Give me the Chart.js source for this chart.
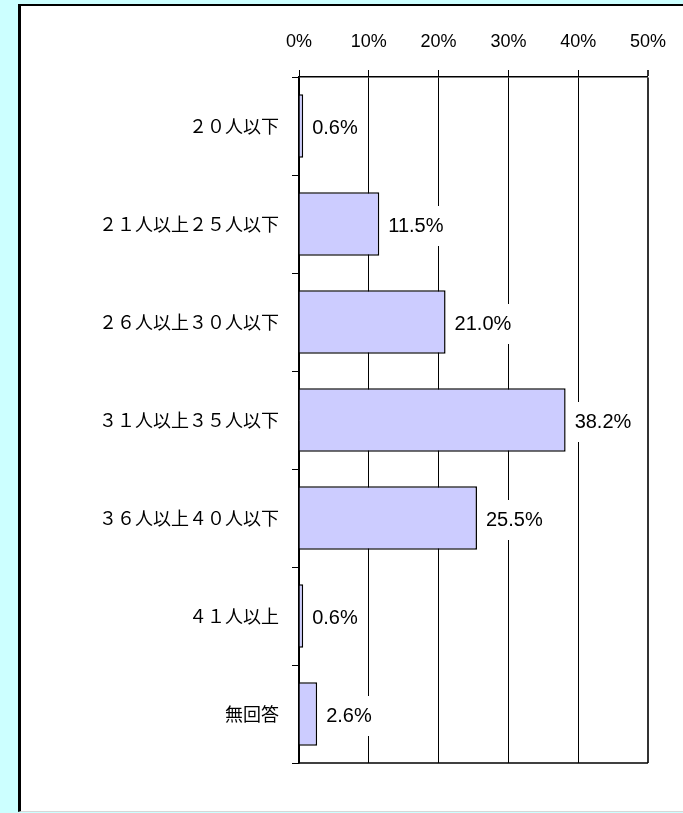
<!DOCTYPE html>
<html>
<head>
<meta charset="utf-8">
<script src="https://cdn.jsdelivr.net/npm/chart.js@4"></script>
<style>
  html, body { margin: 0; padding: 0; overflow: hidden; background: #ccffff; }
  #panel {
    position: absolute; left: 18px; top: 4px; width: 700px; height: 805px;
    background: #fff; border-left: 3px solid #000; border-top: 2px solid #000;
    border-bottom: 1px solid #d8d8d8;
  }
  #chart { position: absolute; left: 0; top: 0; }
</style>
</head>
<body>
<div id="panel"></div>
<canvas id="chart" width="683" height="813"></canvas>
<script>
// 学級の人数
const categories = ['２０人以下', '２１人以上２５人以下', '２６人以上３０人以下', '３１人以上３５人以下',
                    '３６人以上４０人以下', '４１人以上', '無回答'];
const percents = [0.6, 11.5, 21.0, 38.2, 25.5, 0.6, 2.6];
const xTicks = [0, 10, 20, 30, 40, 50];

// value labels on a white box, next to the end of each bar
const valueLabels = {
  id: 'valueLabels',
  afterDatasetsDraw(chart) {
    const ctx = chart.ctx;
    const meta = chart.getDatasetMeta(0);
    ctx.save();
    ctx.font = '20px "Liberation Sans", Arial, sans-serif';
    ctx.textBaseline = 'middle';
    ctx.textAlign = 'left';
    meta.data.forEach((bar, i) => {
      const txt = percents[i].toFixed(1) + '%';
      const w = ctx.measureText(txt).width;
      const x = bar.x + 9;
      const y = bar.y + 2;
      ctx.fillStyle = '#fff';
      ctx.fillRect(bar.x + 3, y - 20, w + 10, 40);
      ctx.fillStyle = '#000';
      ctx.fillText(txt, x, y);
    });
    ctx.restore();
  }
};

// line along the bottom of the plot area
const bottomLine = {
  id: 'bottomLine',
  afterDraw(chart) {
    const a = chart.chartArea;
    const ctx = chart.ctx;
    ctx.save();
    ctx.strokeStyle = '#000';
    ctx.lineWidth = 1.5;
    ctx.beginPath();
    ctx.moveTo(a.left, a.bottom);
    ctx.lineTo(a.right, a.bottom);
    ctx.stroke();
    ctx.restore();
  }
};

new Chart(document.getElementById('chart'), {
  type: 'bar',
  data: {
    labels: categories,
    datasets: [{
      data: percents,
      backgroundColor: '#ccccff',
      borderColor: '#000',
      borderWidth: 1.5,
      barPercentage: 0.65,
      categoryPercentage: 1
    }]
  },
  options: {
    indexAxis: 'y',
    responsive: false,
    animation: false,
    layout: { padding: { left: 0, top: 0, right: 32, bottom: 50 } },
    plugins: { legend: { display: false }, tooltip: { enabled: false } },
    scales: {
      x: {
        position: 'top',
        min: 0, max: 50,
        afterBuildTicks(scale) { scale.ticks = xTicks.map(v => ({ value: v })); },
        afterFit(scale) { scale.height = 77; },
        ticks: {
          padding: 17,
          color: '#000',
          font: { family: '"Liberation Sans", Arial, sans-serif', size: 18 },
          callback: v => v + '%'
        },
        grid: {
          color: ctx => ctx.index === xTicks.length - 1 ? '#333' : '#000',
          lineWidth: ctx => ctx.index === xTicks.length - 1 ? 2 : 1,
          tickLength: 7
        },
        border: { color: '#000', width: 1.5 }
      },
      y: {
        afterFit(scale) { scale.width = 299; },
        ticks: {
          padding: 13,
          color: '#000',
          font: { family: '"Noto Sans CJK JP", sans-serif', size: 18 }
        },
        grid: { offset: true, drawOnChartArea: false, color: '#000', tickLength: 7 },
        border: { color: '#000', width: 1.5 }
      }
    }
  },
  plugins: [valueLabels, bottomLine]
});
</script>
</body>
</html>
